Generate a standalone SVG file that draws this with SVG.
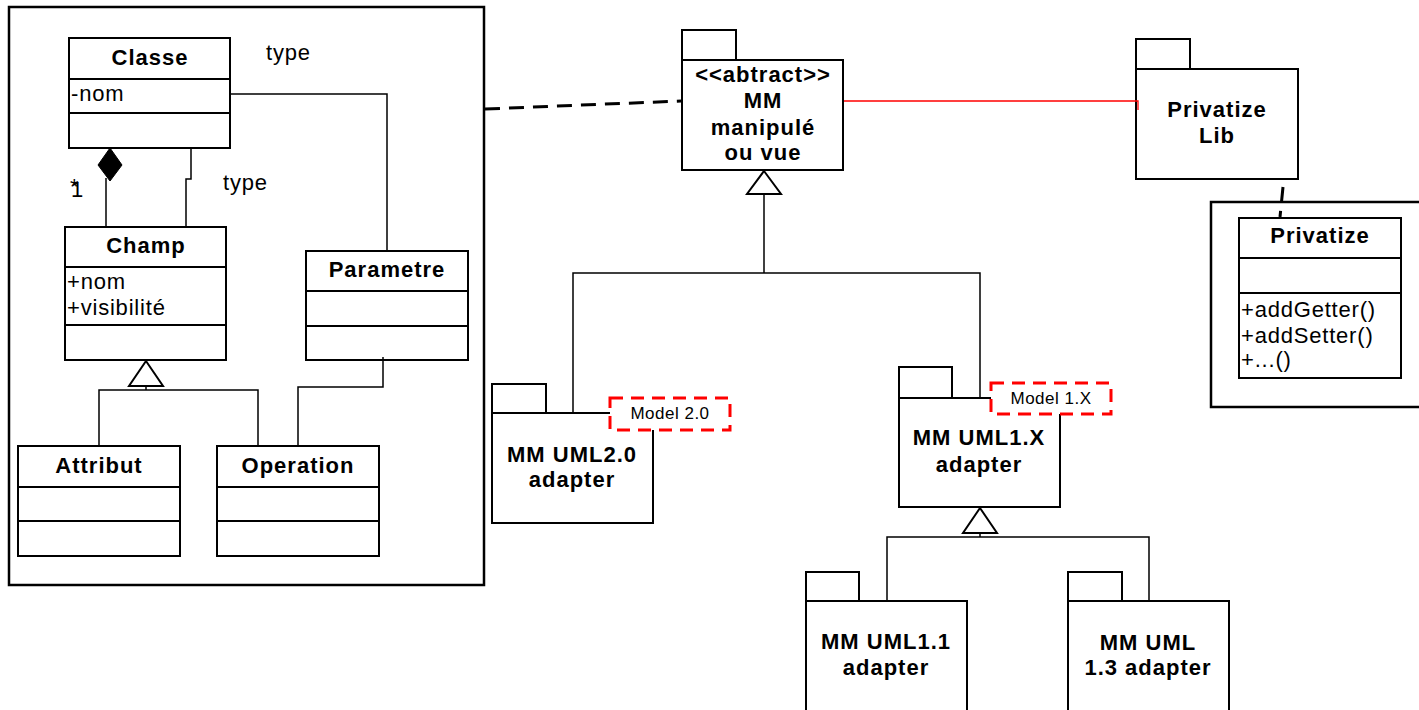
<svg xmlns="http://www.w3.org/2000/svg" width="1419" height="710" viewBox="0 0 1419 710">
<style>
.box{fill:#fff;stroke:#000;stroke-width:2}
.frame{fill:none;stroke:#000;stroke-width:2.5}
.ln{fill:none;stroke:#000;stroke-width:1.5}
.tri{fill:#fff;stroke:#000;stroke-width:2}
.dash{fill:none;stroke:#000;stroke-width:3;stroke-dasharray:15,9}
.red{fill:none;stroke:#f00;stroke-width:1.3}
.note{fill:#fff;stroke:#f00;stroke-width:3;stroke-dasharray:13,8}
.b{font-family:"Liberation Sans",Arial,sans-serif;font-weight:bold;font-size:22px;letter-spacing:1px;text-anchor:middle;fill:#000}
.r{font-family:"Liberation Sans",Arial,sans-serif;font-size:22px;letter-spacing:0.8px;fill:#000}
.n{font-family:"Liberation Sans",Arial,sans-serif;font-size:17px;letter-spacing:0.5px;text-anchor:middle;fill:#000}
</style>
<rect width="1419" height="710" fill="#fff"/>
<g id="frames">
<rect class="frame" x="9" y="7" width="475" height="578"/>
<rect class="frame" x="1211" y="202" width="230" height="205"/>
</g>
<g id="type-label-1"><text class="r" x="266" y="60">type</text></g>
<g id="type-label-2"><text class="r" x="223" y="190">type</text></g>
<g id="mult-labels"><text class="r" x="70" y="194">*</text><text class="r" x="71" y="197">1</text></g>
<g id="classe">
<rect class="box" x="69" y="38" width="161" height="110"/>
<line class="box" x1="69" y1="79" x2="230" y2="79"/>
<line class="box" x1="69" y1="113" x2="230" y2="113"/>
<text class="b" x="150" y="65">Classe</text>
<text class="r" x="71" y="101">-nom</text>
</g>
<g id="champ">
<rect class="box" x="65" y="227" width="161" height="133"/>
<line class="box" x1="65" y1="267" x2="226" y2="267"/>
<line class="box" x1="65" y1="325" x2="226" y2="325"/>
<text class="b" x="146" y="253">Champ</text>
<text class="r" x="67" y="289">+nom</text>
<text class="r" x="67" y="315">+visibilité</text>
</g>
<g id="parametre">
<rect class="box" x="306" y="251" width="162" height="109"/>
<line class="box" x1="306" y1="291" x2="468" y2="291"/>
<line class="box" x1="306" y1="326" x2="468" y2="326"/>
<text class="b" x="387" y="277">Parametre</text>
</g>
<g id="attribut">
<rect class="box" x="18" y="446" width="162" height="110"/>
<line class="box" x1="18" y1="487" x2="180" y2="487"/>
<line class="box" x1="18" y1="521" x2="180" y2="521"/>
<text class="b" x="99" y="473">Attribut</text>
</g>
<g id="operation">
<rect class="box" x="217" y="446" width="162" height="110"/>
<line class="box" x1="217" y1="487" x2="379" y2="487"/>
<line class="box" x1="217" y1="521" x2="379" y2="521"/>
<text class="b" x="298" y="473">Operation</text>
</g>
<g id="mm-abstract">
<rect class="box" x="682" y="30" width="54" height="30"/>
<rect class="box" x="682" y="60" width="161" height="110"/>
<text class="b" x="763" y="82">&lt;&lt;abtract&gt;&gt;</text>
<text class="b" x="763" y="108">MM</text>
<text class="b" x="763" y="135">manipulé</text>
<text class="b" x="763" y="160">ou vue</text>
</g>
<g id="privatize-lib">
<rect class="box" x="1136" y="39" width="54" height="30"/>
<rect class="box" x="1136" y="69" width="162" height="110"/>
<text class="b" x="1217" y="117">Privatize</text>
<text class="b" x="1217" y="143">Lib</text>
</g>
<g id="privatize">
<rect class="box" x="1239" y="218" width="162" height="160"/>
<line class="box" x1="1239" y1="258" x2="1401" y2="258"/>
<line class="box" x1="1239" y1="293" x2="1401" y2="293"/>
<text class="b" x="1320" y="243">Privatize</text>
<text class="r" x="1241" y="317">+addGetter()</text>
<text class="r" x="1241" y="343">+addSetter()</text>
<text class="r" x="1241" y="367">+...()</text>
</g>
<g id="mm-uml20">
<rect class="box" x="492" y="384" width="54" height="29"/>
<rect class="box" x="492" y="413" width="161" height="110"/>
<text class="b" x="572" y="462">MM UML2.0</text>
<text class="b" x="572" y="487">adapter</text>
<rect class="note" x="610" y="398" width="120" height="32"/>
<text class="n" x="670" y="419">Model 2.0</text>
</g>
<g id="mm-uml1x">
<rect class="box" x="899" y="367" width="53" height="31"/>
<rect class="box" x="899" y="398" width="161" height="109"/>
<text class="b" x="979" y="445">MM UML1.X</text>
<text class="b" x="979" y="472">adapter</text>
<rect class="note" x="991" y="383" width="120" height="31"/>
<text class="n" x="1051" y="404">Model 1.X</text>
</g>
<g id="mm-uml11">
<rect class="box" x="806" y="572" width="53" height="29"/>
<rect class="box" x="806" y="601" width="161" height="130"/>
<text class="b" x="886" y="649">MM UML1.1</text>
<text class="b" x="886" y="675">adapter</text>
</g>
<g id="mm-uml13">
<rect class="box" x="1068" y="572" width="54" height="29"/>
<rect class="box" x="1068" y="601" width="161" height="130"/>
<text class="b" x="1148" y="650">MM UML</text>
<text class="b" x="1148" y="675">1.3 adapter</text>
</g>
<g id="connectors">
<polyline class="ln" points="231,94 387,94 387,250"/>
<line class="ln" x1="106" y1="178" x2="106" y2="226"/>
<polygon points="110,148 122,165 110,181 98,165" fill="#000" stroke="#000" stroke-width="1"/>
<polyline class="ln" points="191,149 191,179 186,179 186,226"/>
<polyline class="ln" points="99,445 99,390 258,390 258,445"/>
<line class="ln" x1="146" y1="386" x2="146" y2="390"/>
<polygon class="tri" points="146,361 163,386 129,386"/>
<polyline class="ln" points="383,357 383,387 298,387 298,445"/>
<line class="dash" x1="485" y1="109" x2="681" y2="101"/>
<polyline class="red" points="844,101 1138,101 1138,110"/>
<line class="dash" x1="1283" y1="187" x2="1280" y2="217" style="stroke-dasharray:16,8"/>
<polyline class="ln" points="573,412 573,273 980,273 980,397"/>
<line class="ln" x1="764" y1="194" x2="764" y2="273"/>
<polygon class="tri" points="764,171 781,194 747,194"/>
<polyline class="ln" points="887,600 887,537 1149,537 1149,600"/>
<line class="ln" x1="980" y1="533" x2="980" y2="537"/>
<polygon class="tri" points="980,508 997,533 963,533"/>
</g>
</svg>
